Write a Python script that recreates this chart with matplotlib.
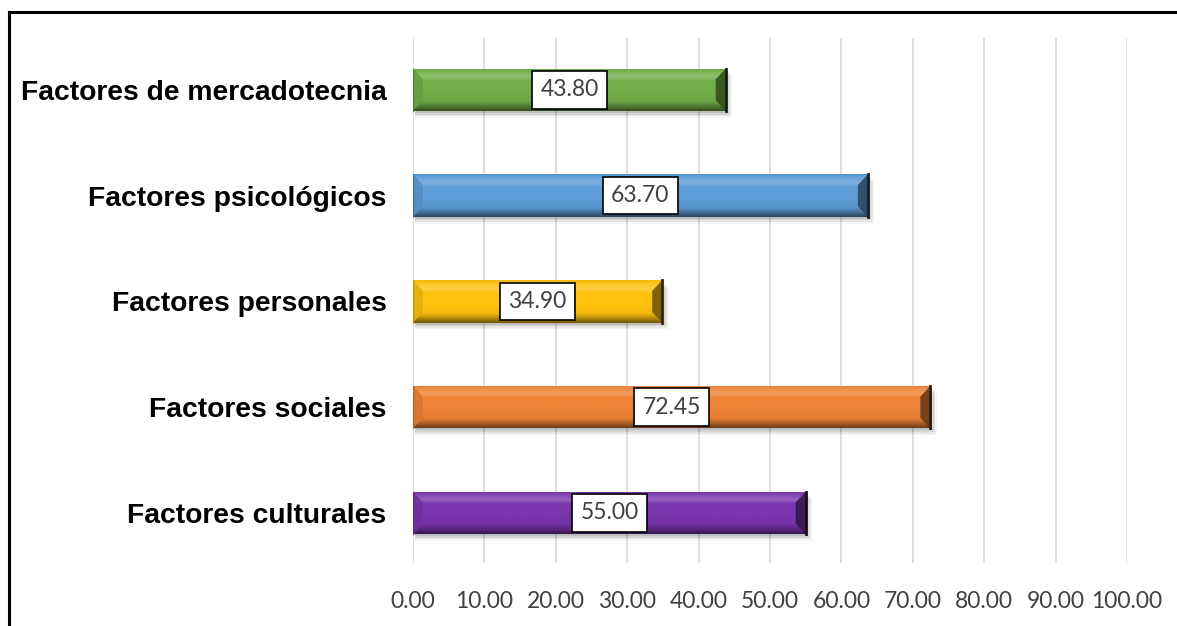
import numpy as np
import matplotlib
matplotlib.use("Agg")
import matplotlib.pyplot as plt
from matplotlib.colors import to_rgb
from matplotlib.patches import Polygon
from matplotlib.lines import Line2D

categories = ["Factores culturales", "Factores sociales", "Factores personales",
              "Factores psicológicos", "Factores de mercadotecnia"]
values = [55.00, 72.45, 34.90, 63.70, 43.80]
colors = ["#7A36AE", "#F08436", "#FFC20E", "#5E9DD8", "#71AE48"]
xticks = [0, 10, 20, 30, 40, 50, 60, 70, 80, 90, 100]
xtick_labels = ["%.2f" % v for v in xticks]

W, H = 1177, 626
fig = plt.figure(figsize=(W / 100, H / 100), dpi=100)
ax = fig.add_axes([413 / W, 1 - 563 / H, (1127 - 413) / W, (563 - 38) / H])

def mix(c, other, a):
    c = np.array(to_rgb(c)); o = np.array(other)
    return c * (1 - a) + o * a

def lighten(c, a):
    return mix(c, (1, 1, 1), a)

def darken(c, a):
    return mix(c, (0, 0, 0), a)

y = np.arange(len(categories))
bar_h = 0.40

# grid
for xv in xticks:
    ax.axvline(xv, color="#DCDCDC", lw=1.3, zorder=0)

bars = ax.barh(y, values, height=bar_h, color=colors, zorder=3, linewidth=0)

for bar, c, v in zip(bars, colors, values):
    x0 = bar.get_x(); w = bar.get_width(); y0 = bar.get_y(); h = bar.get_height()
    x1 = x0 + w; y1 = y0 + h
    # soft shadow
    for k, a in enumerate([0.10, 0.08, 0.06, 0.04]):
        off = 0.02 + k * 0.015
        ax.add_patch(plt.Rectangle((x0 + 0.3, y0 - off), w + 0.2 * k, h, color="black",
                                   alpha=a, lw=0, zorder=2))
    # vertical gradient (rows bottom -> top)
    stops_t = [0.0, 0.10, 0.22, 0.45, 0.70, 0.80, 0.90, 1.0]
    stops_c = [darken(c, 0.55), darken(c, 0.30), darken(c, 0.05), to_rgb(c), to_rgb(c),
               lighten(c, 0.22), lighten(c, 0.10), darken(c, 0.05)]
    n = 64
    ts = np.linspace(0, 1, n)
    grad = np.zeros((n, 2, 3))
    for ch in range(3):
        col = np.interp(ts, stops_t, [s[ch] for s in stops_c])
        grad[:, 0, ch] = col; grad[:, 1, ch] = col
    im = ax.imshow(grad, extent=[x0, x1, y0, y1], origin="lower", aspect="auto",
                   interpolation="bilinear", zorder=4)
    im.set_clip_path(bar)
    # end bevels
    bx = 1.4; by = 0.10
    left = Polygon([(x0, y0), (x0 + bx, y0 + by), (x0 + bx, y1 - by), (x0, y1)],
                   closed=True, fc=darken(c, 0.10), ec="none", zorder=5, alpha=0.9)
    right = Polygon([(x1, y0), (x1 - bx, y0 + by), (x1 - bx, y1 - by), (x1, y1)],
                    closed=True, fc=darken(c, 0.55), ec="none", zorder=5, alpha=0.9)
    ax.add_patch(left); ax.add_patch(right)
    ax.add_line(Line2D([x1, x1], [y0, y1], color=darken(c, 0.8), lw=2.0, zorder=6))
    ax.add_line(Line2D([x0, x0], [y0, y1], color=darken(c, 0.25), lw=1.0, zorder=6))
    # value label
    ax.text(x0 + w / 2, y0 + h / 2, "%.2f" % v, ha="center", va="center",
            fontsize=16.5, family="Lato", color="#404040", zorder=8,
            bbox=dict(boxstyle="square,pad=0.36", fc="white", ec="black", lw=1.2))

ax.set_xlim(0, 100)
ax.set_ylim(-0.473, 4.49)
ax.set_xticks(xticks)
ax.set_xticklabels(xtick_labels, family="Lato", fontsize=16.5, color="#404040")
ax.set_yticks(y)
ax.set_yticklabels(categories, family="Liberation Sans", fontweight="bold", fontsize=20.3,
                   color="black")
ax.tick_params(axis="both", length=0)
ax.tick_params(axis="x", pad=20)
ax.tick_params(axis="y", pad=19)
for s in ax.spines.values():
    s.set_visible(False)

# figure border (top and left)
fig.add_artist(Line2D([9 / W, 9 / W], [0, 1 - 12 / H], transform=fig.transFigure,
                      color="black", lw=2.2))
fig.add_artist(Line2D([9 / W, 1], [1 - 12 / H, 1 - 12 / H], transform=fig.transFigure,
                      color="black", lw=2.2))

fig.savefig("out.png", dpi=100)
